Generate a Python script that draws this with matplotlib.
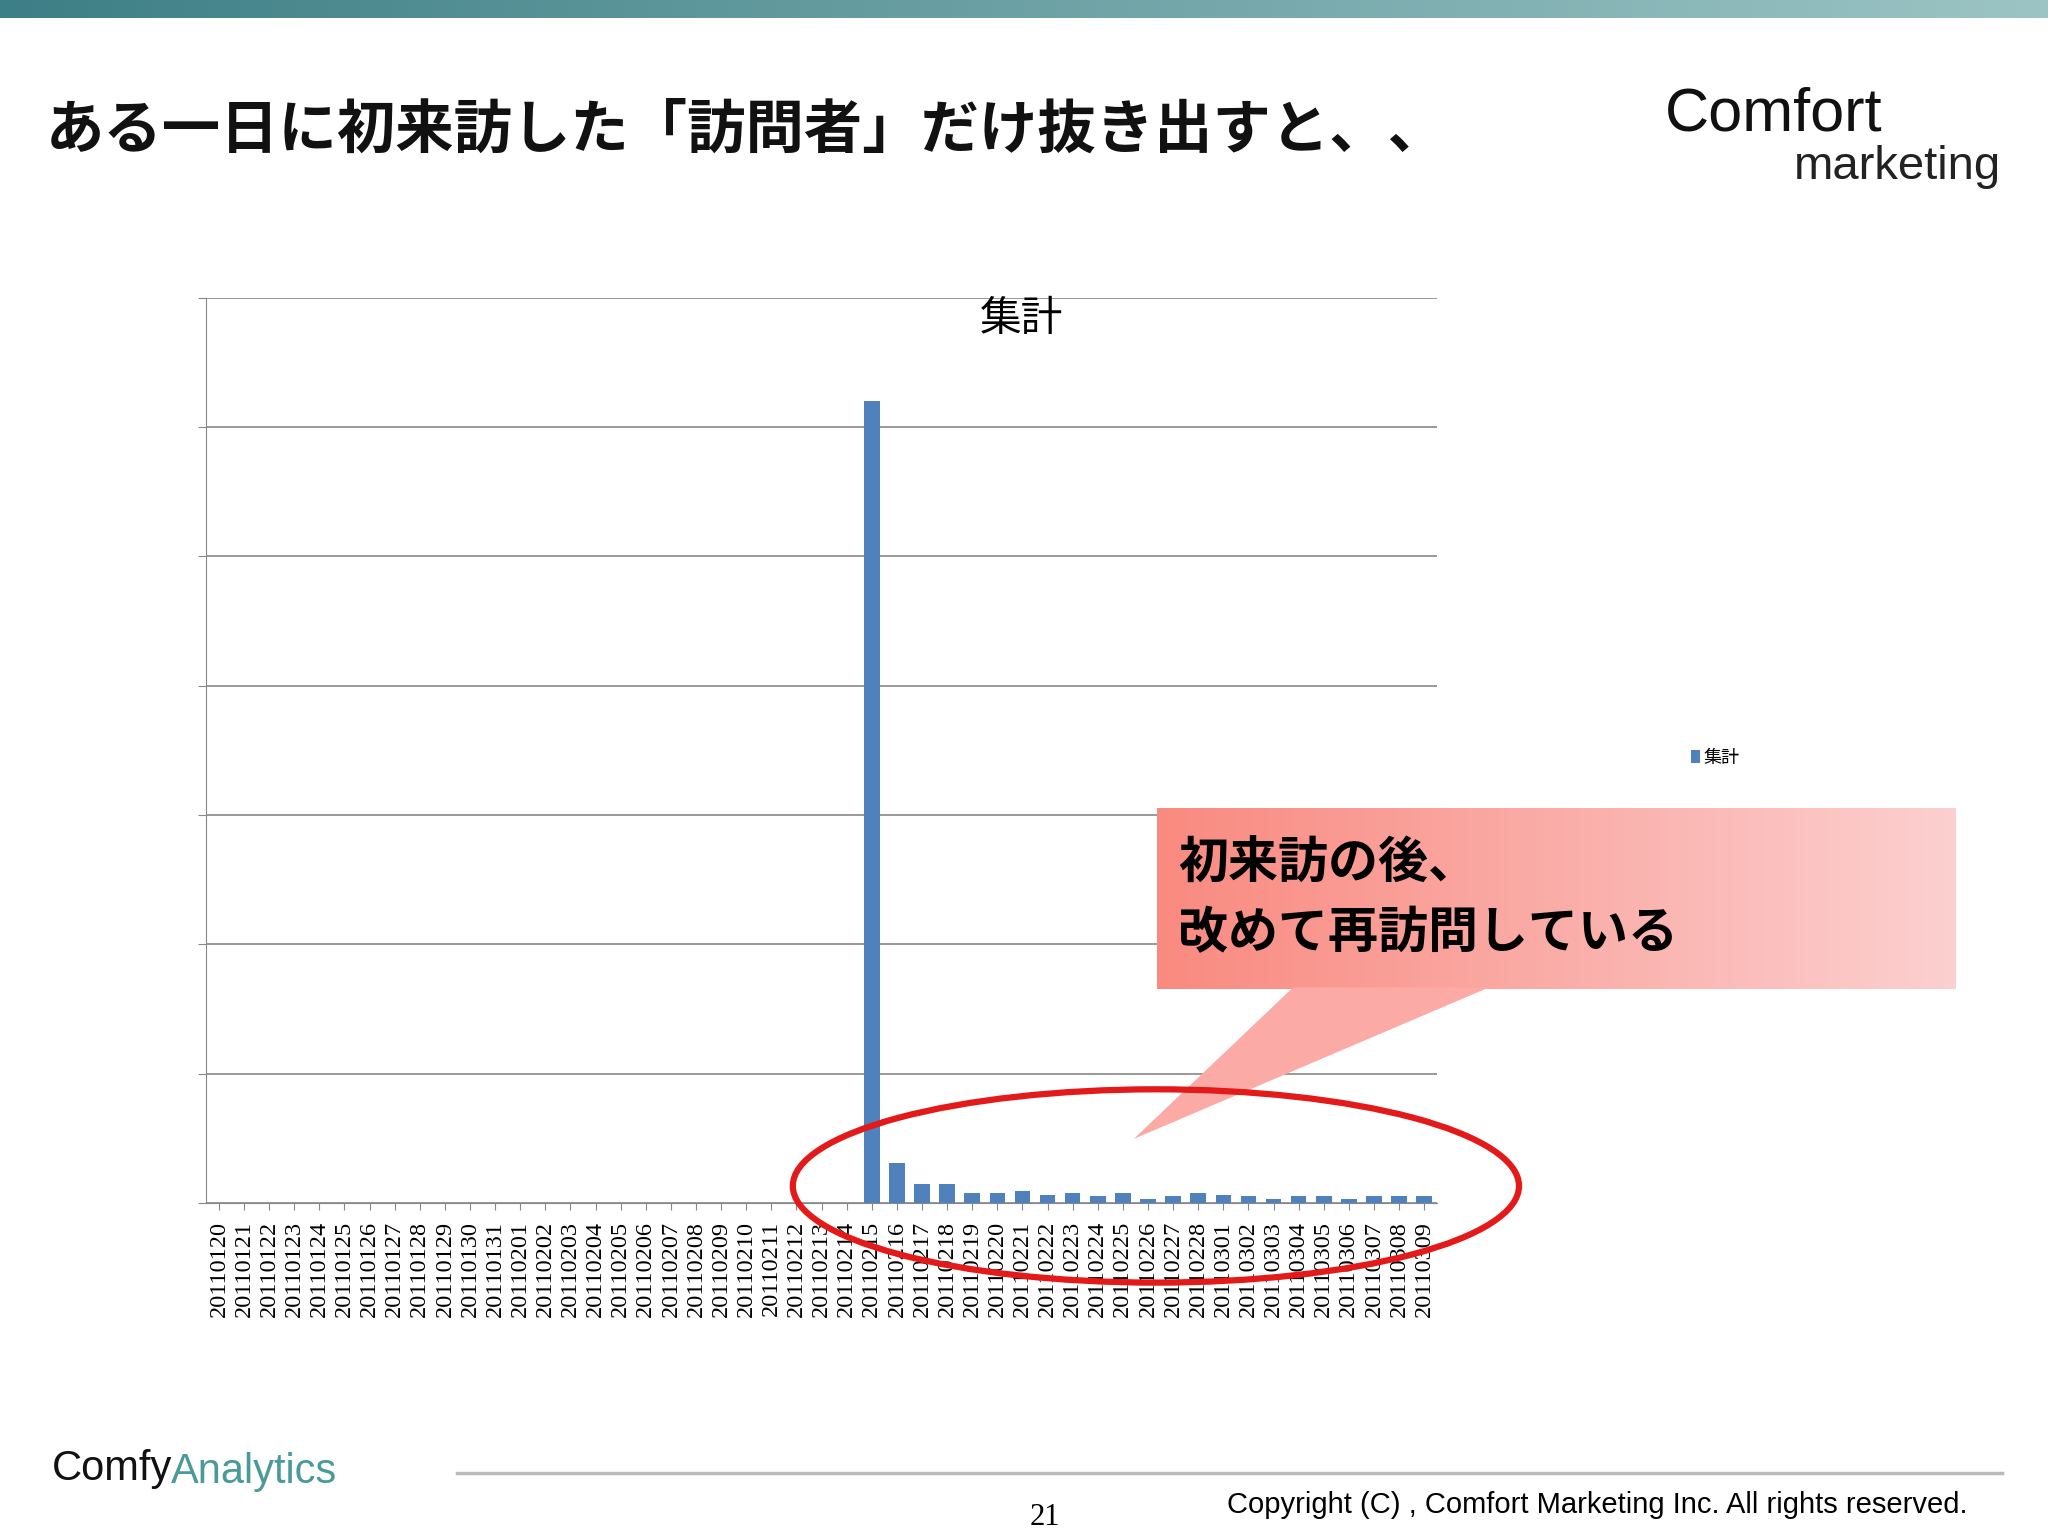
import matplotlib
matplotlib.use("Agg")
import matplotlib.pyplot as plt
from matplotlib.patches import Ellipse, Polygon
import numpy as np

plt.rcParams['font.family'] = ['Noto Sans CJK JP', 'DejaVu Sans']

dates = (["201101%02d" % d for d in range(20, 32)] +
         ["201102%02d" % d for d in range(1, 29)] +
         ["201103%02d" % d for d in range(1, 10)])
values = [0]*26 + [620, 31, 15, 15, 8, 8, 9, 6, 8, 5, 8, 3, 5, 8,
                   6, 5, 3, 5, 5, 3, 5, 5, 5]

W, H = 1568, 1176
def fx(x): return x / W
def fy(y): return 1 - y / H

fig = plt.figure(figsize=(20.48, 15.36), dpi=100)
fig.patch.set_facecolor('white')

grad = np.linspace(0, 1, 256).reshape(1, -1)
ax_top = fig.add_axes([0, fy(14), 1, 14 / H])
ax_top.imshow(grad, aspect='auto', cmap=matplotlib.colors.LinearSegmentedColormap.from_list('t', ['#3d7f86', '#9cc4c4']))
ax_top.axis('off')

fig.text(fx(35), fy(100), "ある一日に初来訪した「訪問者」だけ抜き出すと、、", fontsize=42,
         fontweight='bold', va='center', ha='left', color='#111111')

fig.text(fx(1275), fy(88), "Comfort", fontsize=44, va='center', ha='left', color='#111111',
         family='Liberation Sans')
fig.text(fx(1532), fy(128), "marketing", fontsize=34, va='center', ha='right', color='#222222',
         family='Liberation Sans')
fig.text(fx(40), fy(1125), "Comfy", fontsize=30, va='center', ha='left', color='#111111',
         family='Liberation Sans')
fig.text(fx(131), fy(1127), "Analytics", fontsize=30, va='center', ha='left', color='#4a9a9a',
         family='Liberation Sans')
fig.add_artist(plt.Line2D([fx(350), fx(1533)], [fy(1128), fy(1128)], color='#bbbbbb', lw=2.5))
fig.text(fx(800), fy(1162), "21", fontsize=22, ha='center', va='center', family='Liberation Serif')
fig.text(fx(1506), fy(1152), "Copyright (C) , Comfort Marketing Inc. All rights reserved.",
         fontsize=21, ha='right', va='center', family='Liberation Sans')

ax = fig.add_axes([fx(158), fy(921), fx(1100) - fx(158), (921 - 228) / H])
x = np.arange(len(dates))
ax.bar(x, values, width=0.62, color='#4F81BD', zorder=3, label='集計')
ax.set_xlim(-0.5, len(dates) - 0.5)
ax.set_ylim(0, 700)
ax.set_yticks(np.arange(0, 701, 100))
ax.set_yticklabels([])
ax.grid(axis='y', color='#888888', lw=1.2, zorder=0)
for s in ['top', 'right']:
    ax.spines[s].set_visible(False)
ax.spines['left'].set_color('#888888')
ax.spines['bottom'].set_color('#888888')
ax.tick_params(axis='y', length=6, color='#888888')
ax.tick_params(axis='x', length=5, color='#888888', pad=8)
ax.set_xticks(x)
ax.set_xticklabels(dates, rotation=90, fontsize=17.5, family='Liberation Serif')
fig.text(fx(782), fy(245), "集計", fontsize=30, ha='center', va='center')
fig.legend(*ax.get_legend_handles_labels(), loc='center left', bbox_to_anchor=(fx(1282), fy(580)),
           frameon=False, fontsize=13, handlelength=0.5, handletextpad=0.2)

ov = fig.add_axes([0, 0, 1, 1], facecolor='none')
cg = np.linspace(0, 1, 256).reshape(1, -1)
cmap = matplotlib.colors.LinearSegmentedColormap.from_list('c', ['#f98a80', '#fcd0d0'])
ov.imshow(cg, extent=[886, 1497, 757, 619], cmap=cmap, aspect='auto', zorder=2)
ov.add_patch(Polygon([[990, 756], [1140, 756], [868, 872]], closed=True, facecolor='#fbaaa5',
                     edgecolor='none', zorder=2))
ov.set_xlim(0, W); ov.set_ylim(H, 0); ov.axis('off')
ov.text(902, 662, "初来訪の後、", fontsize=36, fontweight='bold', va='center', zorder=3)
ov.text(902, 715, "改めて再訪問している", fontsize=36, fontweight='bold', va='center', zorder=3)
ov.add_patch(Ellipse((885, 908), 556, 148, fill=False, edgecolor='#e41a1a', lw=4.5, zorder=4))

fig.savefig("out.png", dpi=100)
